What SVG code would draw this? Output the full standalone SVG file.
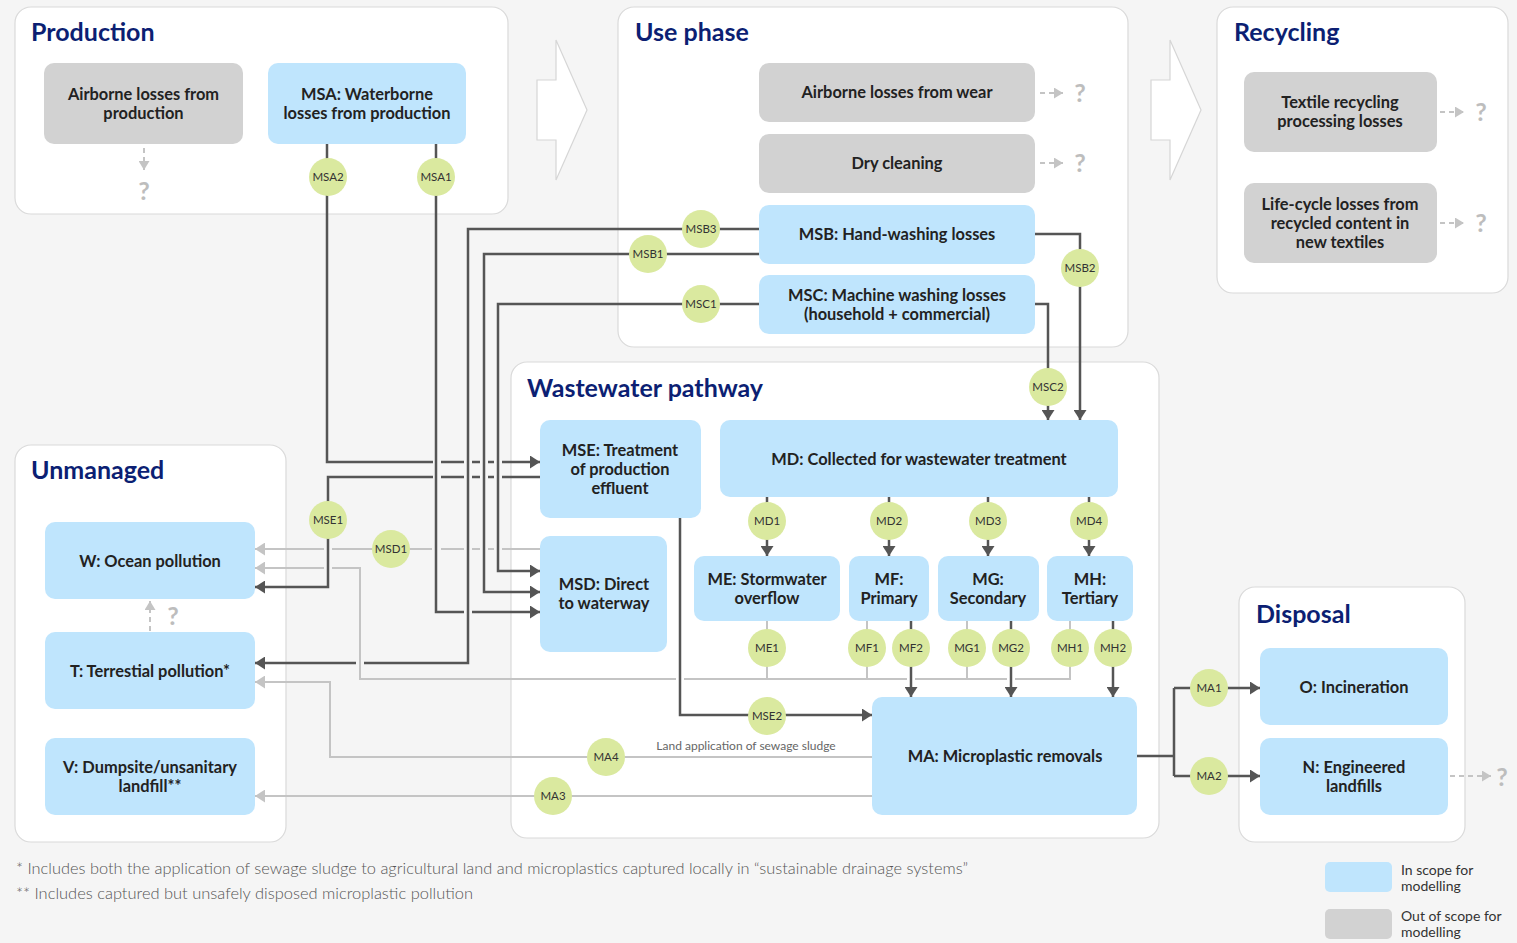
<svg xmlns="http://www.w3.org/2000/svg" width="1517" height="943" viewBox="0 0 1517 943">
<style>
.cont{fill:#fff;stroke:#dadada;stroke-width:1.2}
.title{font-family:Lato,"Open Sans","Liberation Sans",sans-serif;font-weight:700;font-size:25px;fill:#0c1f73}
.blue{fill:#bfe5fd}
.grey{fill:#d2d2d2}
.bt{font-family:Lato,"Open Sans","Liberation Sans",sans-serif;font-weight:700;font-size:16.4px;fill:#222;text-anchor:middle}
.dk{fill:none;stroke:#555;stroke-width:2.5}
.lt{fill:none;stroke:#c4c4c4;stroke-width:2}
.ds{fill:none;stroke:#c4c4c4;stroke-width:2;stroke-dasharray:5 4}
.q{font-family:Lato,"Liberation Sans",sans-serif;font-weight:700;font-size:25px;fill:#bdbdbd;text-anchor:middle}
.cir{fill:#dae99f}
.ct{font-family:Lato,"Open Sans","Liberation Sans",sans-serif;font-size:11.5px;fill:#333;text-anchor:middle}
.note{font-family:Lato,"Liberation Sans",sans-serif;font-weight:300;font-size:15px;fill:#555}
.leg{font-family:Lato,"Open Sans","Liberation Sans",sans-serif;font-size:14px;fill:#333}
.big{fill:#fff;stroke:#d6d6d6;stroke-width:1.2}
</style>
<defs>
<marker id="ad" markerUnits="userSpaceOnUse" markerWidth="10" markerHeight="13" refX="10" refY="6.5" orient="auto"><path d="M0,0 L10,6.5 L0,13 z" fill="#555"/></marker>
<marker id="al" markerUnits="userSpaceOnUse" markerWidth="10" markerHeight="13" refX="10" refY="6.5" orient="auto"><path d="M0,0 L10,6.5 L0,13 z" fill="#c4c4c4"/></marker>
<marker id="aq" markerUnits="userSpaceOnUse" markerWidth="9" markerHeight="11" refX="9" refY="5.5" orient="auto"><path d="M0,0 L9,5.5 L0,11 z" fill="#c4c4c4"/></marker>
</defs>
<rect x="0" y="0" width="1517" height="943" fill="#f5f5f5"/>

<!-- containers -->
<g id="production">
<rect class="cont" x="15" y="7" width="493" height="207" rx="16"/>
<text class="title" x="31" y="41">Production</text>
</g>
<g id="use-phase">
<rect class="cont" x="618" y="7" width="510" height="340" rx="16"/>
<text class="title" x="635" y="41">Use phase</text>
</g>
<g id="recycling">
<rect class="cont" x="1217" y="7" width="291" height="286" rx="16"/>
<text class="title" x="1234" y="41">Recycling</text>
</g>
<g id="wastewater">
<rect class="cont" x="511" y="362" width="648" height="476" rx="16"/>
<text class="title" x="527" y="397">Wastewater pathway</text>
</g>
<g id="unmanaged">
<rect class="cont" x="15" y="445" width="271" height="397" rx="16"/>
<text class="title" x="31" y="479">Unmanaged</text>
</g>
<g id="disposal">
<rect class="cont" x="1239" y="587" width="226" height="255" rx="16"/>
<text class="title" x="1256" y="623">Disposal</text>
</g>

<!-- big stage arrows -->
<g id="stage-arrows">
<polygon class="big" points="537,80 556,80 556,40 587,110 556,180 556,140 537,140"/>
<polygon class="big" points="1151,80 1170,80 1170,40 1201,110 1170,180 1170,140 1151,140"/>
</g>

<!-- connectors -->
<g id="connectors">
<path class="dk" marker-end="url(#ad)" d="M327,144 V462 H433 M441,462 H464 M472,462 H480 M488,462 H494 M502,462 H540"/>
<path class="dk" marker-end="url(#ad)" d="M540,477 H502 M494,477 H488 M480,477 H472 M464,477 H441 M433,477 H328 V587 H255"/>
<path class="dk" marker-end="url(#ad)" d="M436,144 V612 H464 M472,612 H540"/>
<path class="dk" marker-end="url(#ad)" d="M759,229 H468 V663 H364 M356,663 H255"/>
<path class="dk" marker-end="url(#ad)" d="M759,254 H484 V592 H540"/>
<path class="dk" marker-end="url(#ad)" d="M759,304 H498 V571 H540"/>
<path class="dk" marker-end="url(#ad)" d="M1035,234 H1080 V420"/>
<path class="dk" marker-end="url(#ad)" d="M1035,304 H1048 V420"/>
<path class="dk" marker-end="url(#ad)" d="M767,497 V556"/>
<path class="dk" marker-end="url(#ad)" d="M889,497 V556"/>
<path class="dk" marker-end="url(#ad)" d="M988,497 V556"/>
<path class="dk" marker-end="url(#ad)" d="M1089,497 V556"/>
<path class="dk" marker-end="url(#ad)" d="M911,621 V697"/>
<path class="dk" marker-end="url(#ad)" d="M1011,621 V697"/>
<path class="dk" marker-end="url(#ad)" d="M1113,621 V697"/>
<path class="dk" marker-end="url(#ad)" d="M680,518 V715 H872"/>
<path class="dk" d="M1136,756 H1174 M1174,688 V776"/>
<path class="dk" marker-end="url(#ad)" d="M1174,688 H1260"/>
<path class="dk" marker-end="url(#ad)" d="M1174,776 H1260"/>
<path class="lt" marker-end="url(#al)" d="M540,549 H502 M494,549 H488 M480,549 H472 M464,549 H441 M432,549 H332 M324,549 H255"/>
<path class="lt" marker-end="url(#al)" d="M1070,621 V679 H1015 M1007,679 H915 M907,679 H684 M676,679 H360 V568 H332 M324,568 H255"/>
<path class="lt" d="M767,621 V679 M867,621 V679 M967,621 V679"/>
<path class="lt" marker-end="url(#al)" d="M873,757 H330 V682 H255"/>
<path class="lt" marker-end="url(#al)" d="M873,796 H255"/>
<path class="ds" marker-end="url(#aq)" d="M144,148 V170"/>
<path class="ds" marker-end="url(#aq)" d="M1040,93 H1063"/>
<path class="ds" marker-end="url(#aq)" d="M1040,163 H1063"/>
<path class="ds" marker-end="url(#aq)" d="M1440,112 H1464"/>
<path class="ds" marker-end="url(#aq)" d="M1440,223 H1464"/>
<path class="ds" marker-end="url(#aq)" d="M1450,776 H1491"/>
<path class="ds" marker-end="url(#aq)" d="M150,631 V601"/>
<text class="q" x="144" y="200">?</text>
<text class="q" x="1080" y="102">?</text>
<text class="q" x="1080" y="172">?</text>
<text class="q" x="1481" y="121">?</text>
<text class="q" x="1481" y="232">?</text>
<text class="q" x="1502" y="786">?</text>
<text class="q" x="173" y="625">?</text>
<text x="746" y="750" text-anchor="middle" font-family="Lato, 'Liberation Sans', sans-serif" font-size="12" fill="#666">Land application of sewage sludge</text>
</g>

<!-- nodes -->
<g id="n-airborne-prod"><rect class="grey" x="44" y="63" width="199" height="81" rx="10"/><text class="bt" x="143.5" y="100">Airborne losses from</text><text class="bt" x="143.5" y="119">production</text></g>
<g id="n-msa"><rect class="blue" x="268" y="63" width="198" height="81" rx="10"/><text class="bt" x="367" y="100">MSA: Waterborne</text><text class="bt" x="367" y="119">losses from production</text></g>
<g id="n-airborne-wear"><rect class="grey" x="759" y="63" width="276" height="59" rx="10"/><text class="bt" x="897" y="98">Airborne losses from wear</text></g>
<g id="n-dry"><rect class="grey" x="759" y="134" width="276" height="59" rx="10"/><text class="bt" x="897" y="169">Dry cleaning</text></g>
<g id="n-msb"><rect class="blue" x="759" y="205" width="276" height="59" rx="10"/><text class="bt" x="897" y="240">MSB: Hand-washing losses</text></g>
<g id="n-msc"><rect class="blue" x="759" y="275" width="276" height="59" rx="10"/><text class="bt" x="897" y="301">MSC: Machine washing losses</text><text class="bt" x="897" y="320">(household + commercial)</text></g>
<g id="n-textile"><rect class="grey" x="1244" y="72" width="193" height="80" rx="10"/><text class="bt" x="1340" y="108">Textile recycling</text><text class="bt" x="1340" y="127">processing losses</text></g>
<g id="n-lifecycle"><rect class="grey" x="1244" y="183" width="193" height="80" rx="10"/><text class="bt" x="1340" y="210">Life-cycle losses from</text><text class="bt" x="1340" y="229">recycled content in</text><text class="bt" x="1340" y="248">new textiles</text></g>
<g id="n-mse"><rect class="blue" x="540" y="420" width="161" height="98" rx="10"/><text class="bt" x="620" y="456">MSE: Treatment</text><text class="bt" x="620" y="475">of production</text><text class="bt" x="620" y="494">effluent</text></g>
<g id="n-msd"><rect class="blue" x="540" y="536" width="127" height="116" rx="10"/><text class="bt" x="604" y="590">MSD: Direct</text><text class="bt" x="604" y="609">to waterway</text></g>
<g id="n-md"><rect class="blue" x="720" y="420" width="398" height="77" rx="10"/><text class="bt" x="919" y="465">MD: Collected for wastewater treatment</text></g>
<g id="n-me"><rect class="blue" x="694" y="556" width="146" height="65" rx="10"/><text class="bt" x="767" y="585">ME: Stormwater</text><text class="bt" x="767" y="604">overflow</text></g>
<g id="n-mf"><rect class="blue" x="849" y="556" width="80" height="65" rx="10"/><text class="bt" x="889" y="585">MF:</text><text class="bt" x="889" y="604">Primary</text></g>
<g id="n-mg"><rect class="blue" x="938" y="556" width="101" height="65" rx="10"/><text class="bt" x="988" y="585">MG:</text><text class="bt" x="988" y="604">Secondary</text></g>
<g id="n-mh"><rect class="blue" x="1047" y="556" width="86" height="65" rx="10"/><text class="bt" x="1090" y="585">MH:</text><text class="bt" x="1090" y="604">Tertiary</text></g>
<g id="n-ma"><rect class="blue" x="872" y="697" width="265" height="118" rx="10"/><text class="bt" x="1005" y="762">MA: Microplastic removals</text></g>
<g id="n-w"><rect class="blue" x="45" y="522" width="210" height="77" rx="10"/><text class="bt" x="150" y="567">W: Ocean pollution</text></g>
<g id="n-t"><rect class="blue" x="45" y="632" width="210" height="77" rx="10"/><text class="bt" x="150" y="677">T: Terrestial pollution*</text></g>
<g id="n-v"><rect class="blue" x="45" y="738" width="210" height="77" rx="10"/><text class="bt" x="150" y="773">V: Dumpsite/unsanitary</text><text class="bt" x="150" y="792">landfill**</text></g>
<g id="n-o"><rect class="blue" x="1260" y="648" width="188" height="77" rx="10"/><text class="bt" x="1354" y="693">O: Incineration</text></g>
<g id="n-n"><rect class="blue" x="1260" y="738" width="188" height="77" rx="10"/><text class="bt" x="1354" y="773">N: Engineered</text><text class="bt" x="1354" y="792">landfills</text></g>

<!-- flow labels -->
<g id="flow-labels">
<circle class="cir" cx="328" cy="177" r="19"/><text class="ct" x="328" y="181">MSA2</text>
<circle class="cir" cx="436" cy="177" r="19"/><text class="ct" x="436" y="181">MSA1</text>
<circle class="cir" cx="701" cy="229" r="19"/><text class="ct" x="701" y="233">MSB3</text>
<circle class="cir" cx="648" cy="254" r="19"/><text class="ct" x="648" y="258">MSB1</text>
<circle class="cir" cx="701" cy="304" r="19"/><text class="ct" x="701" y="308">MSC1</text>
<circle class="cir" cx="1080" cy="268" r="19"/><text class="ct" x="1080" y="272">MSB2</text>
<circle class="cir" cx="1048" cy="387" r="19"/><text class="ct" x="1048" y="391">MSC2</text>
<circle class="cir" cx="328" cy="520" r="19"/><text class="ct" x="328" y="524">MSE1</text>
<circle class="cir" cx="391" cy="549" r="19"/><text class="ct" x="391" y="553">MSD1</text>
<circle class="cir" cx="767" cy="521" r="19"/><text class="ct" x="767" y="525">MD1</text>
<circle class="cir" cx="889" cy="521" r="19"/><text class="ct" x="889" y="525">MD2</text>
<circle class="cir" cx="988" cy="521" r="19"/><text class="ct" x="988" y="525">MD3</text>
<circle class="cir" cx="1089" cy="521" r="19"/><text class="ct" x="1089" y="525">MD4</text>
<circle class="cir" cx="767" cy="648" r="19"/><text class="ct" x="767" y="652">ME1</text>
<circle class="cir" cx="867" cy="648" r="19"/><text class="ct" x="867" y="652">MF1</text>
<circle class="cir" cx="911" cy="648" r="19"/><text class="ct" x="911" y="652">MF2</text>
<circle class="cir" cx="967" cy="648" r="19"/><text class="ct" x="967" y="652">MG1</text>
<circle class="cir" cx="1011" cy="648" r="19"/><text class="ct" x="1011" y="652">MG2</text>
<circle class="cir" cx="1070" cy="648" r="19"/><text class="ct" x="1070" y="652">MH1</text>
<circle class="cir" cx="1113" cy="648" r="19"/><text class="ct" x="1113" y="652">MH2</text>
<circle class="cir" cx="767" cy="716" r="19"/><text class="ct" x="767" y="720">MSE2</text>
<circle class="cir" cx="606" cy="757" r="19"/><text class="ct" x="606" y="761">MA4</text>
<circle class="cir" cx="553" cy="796" r="19"/><text class="ct" x="553" y="800">MA3</text>
<circle class="cir" cx="1209" cy="688" r="19"/><text class="ct" x="1209" y="692">MA1</text>
<circle class="cir" cx="1209" cy="776" r="19"/><text class="ct" x="1209" y="780">MA2</text>
</g>

<!-- footnotes -->
<g id="footnotes">
<text class="note" x="16" y="874" textLength="952" lengthAdjust="spacingAndGlyphs">* Includes both the application of sewage sludge to agricultural land and microplastics captured locally in “sustainable drainage systems”</text>
<text class="note" x="16" y="899" textLength="457" lengthAdjust="spacingAndGlyphs">** Includes captured but unsafely disposed microplastic pollution</text>
</g>

<!-- legend -->
<g id="legend">
<rect class="blue" x="1325" y="862" width="67" height="30" rx="5"/>
<text class="leg" x="1401" y="875">In scope for</text>
<text class="leg" x="1401" y="891">modelling</text>
<rect class="grey" x="1325" y="909" width="67" height="30" rx="5"/>
<text class="leg" x="1401" y="921">Out of scope for</text>
<text class="leg" x="1401" y="937">modelling</text>
</g>
</svg>
